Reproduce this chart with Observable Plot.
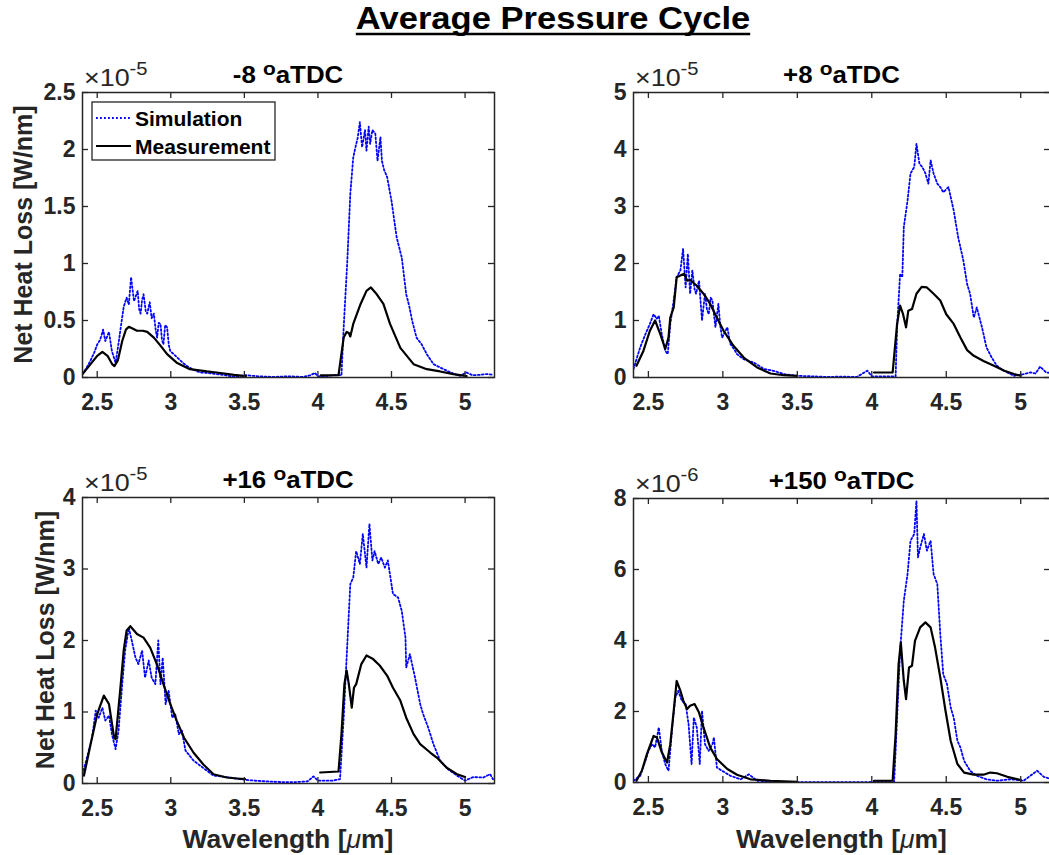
<!DOCTYPE html>
<html>
<head>
<meta charset="utf-8">
<script src="https://cdn.jsdelivr.net/npm/d3@7"></script>
<script src="https://cdn.jsdelivr.net/npm/@observablehq/plot@0.6"></script>
<style>
  html, body { margin: 0; padding: 0; background: #fff; }
  #fig { position: relative; width: 1049px; height: 855px; overflow: hidden; background: #fff; }
  .panel { position: absolute; }
</style>
</head>
<body>
<div id="fig"></div>
<script>
// ---------------- DATA ----------------
const mainTitle = "Average Pressure Cycle";
const panelTitles = ["-8", "+8", "+16", "+150"];
const titleUnit = "aTDC";
const exponents = ["-5", "-5", "-5", "-6"];
const seriesNames = ["Simulation", "Measurement"];
const yLabel = "Net Heat Loss [W/nm]";
const xLabelPre = "Wavelength [";
const xLabelMu = "\u03bc";
const xLabelPost = "m]";

const xDomain = [2.4, 5.2];
const xTicks = [2.5, 3, 3.5, 4, 4.5, 5];
const yTicksM8 = [0, 0.5, 1, 1.5, 2, 2.5];
const yTicksP8 = [0, 1, 2, 3, 4, 5];
const yTicksP16 = [0, 1, 2, 3, 4];
const yTicksP150 = [0, 2, 4, 6, 8];

// [wavelength (um), net heat loss (in units of the panel exponent)]
const simM8 = [[2.40,0.03],[2.43,0.09],[2.455,0.15],[2.48,0.22],[2.50,0.29],[2.52,0.33],[2.54,0.42],[2.555,0.32],[2.58,0.40],[2.60,0.23],[2.625,0.13],[2.645,0.30],[2.66,0.44],[2.68,0.62],[2.70,0.70],[2.715,0.64],[2.73,0.88],[2.75,0.67],[2.775,0.76],[2.785,0.60],[2.795,0.56],[2.805,0.68],[2.815,0.73],[2.83,0.58],[2.84,0.56],[2.857,0.66],[2.87,0.52],[2.885,0.56],[2.897,0.42],[2.907,0.35],[2.918,0.48],[2.93,0.47],[2.94,0.33],[2.95,0.29],[2.962,0.46],[2.975,0.44],[2.987,0.28],[2.997,0.23],[3.02,0.205],[3.04,0.18],[3.065,0.15],[3.09,0.12],[3.11,0.10],[3.15,0.07],[3.2,0.044],[3.25,0.04],[3.31,0.03],[3.37,0.02],[3.43,0.006],[3.51,0.02],[3.6,0.01],[3.7,0.005],[3.8,0.01],[3.9,0.005],[3.95,0.02],[3.98,0.04],[4.0,0.01],[4.05,0.01],[4.1,0.02],[4.16,0.02],[4.175,0.44],[4.2,1.03],[4.22,1.61],[4.24,1.93],[4.255,2.02],[4.27,2.1],[4.285,2.24],[4.30,2.02],[4.32,2.17],[4.33,1.99],[4.345,2.2],[4.355,2.05],[4.37,2.17],[4.39,2.14],[4.405,1.9],[4.425,2.11],[4.435,1.9],[4.45,1.82],[4.47,1.76],[4.5,1.55],[4.535,1.23],[4.57,1.05],[4.6,0.73],[4.62,0.63],[4.64,0.50],[4.67,0.35],[4.705,0.29],[4.74,0.205],[4.785,0.117],[4.83,0.088],[4.9,0.044],[4.965,0.015],[5.01,0.044],[5.05,0.02],[5.1,0.023],[5.15,0.03],[5.19,0.023]];
const measM8 = [[2.40,0.03],[2.455,0.117],[2.50,0.19],[2.535,0.225],[2.57,0.19],[2.60,0.12],[2.617,0.10],[2.64,0.15],[2.67,0.32],[2.695,0.42],[2.715,0.445],[2.74,0.43],[2.77,0.41],[2.81,0.41],[2.84,0.40],[2.885,0.35],[2.93,0.28],[2.975,0.205],[3.04,0.13],[3.13,0.073],[3.245,0.053],[3.31,0.044],[3.43,0.023],[3.51,0.012],[3.75,null],[4.02,0.018],[4.14,0.02],[4.175,0.35],[4.195,0.40],[4.21,0.39],[4.22,0.36],[4.24,0.47],[4.29,0.645],[4.33,0.76],[4.36,0.79],[4.40,0.73],[4.445,0.645],[4.49,0.47],[4.56,0.26],[4.65,0.117],[4.74,0.073],[4.83,0.053],[4.92,0.03],[5.01,0.012]];

const simP8 = [[2.40,0.15],[2.445,0.53],[2.48,0.76],[2.51,0.94],[2.535,1.11],[2.555,1.03],[2.57,1.08],[2.59,0.76],[2.613,0.47],[2.63,0.41],[2.647,0.94],[2.67,1.35],[2.69,1.76],[2.715,1.88],[2.733,2.26],[2.75,1.58],[2.765,2.17],[2.78,1.47],[2.795,1.88],[2.81,1.55],[2.82,1.47],[2.84,1.70],[2.86,1.0],[2.88,1.47],[2.893,1.2],[2.905,1.11],[2.918,1.4],[2.93,1.35],[2.95,0.88],[2.97,1.29],[2.983,0.9],[2.995,0.70],[3.03,0.88],[3.05,0.59],[3.075,0.5],[3.095,0.41],[3.14,0.32],[3.21,0.26],[3.275,0.15],[3.34,0.117],[3.41,0.06],[3.5,0.03],[3.6,0.02],[3.7,0.01],[3.8,0.015],[3.9,0.01],[3.97,0.12],[4.0,0.02],[4.1,0.02],[4.16,0.02],[4.17,0.88],[4.19,1.82],[4.205,1.76],[4.215,2.64],[4.24,3.1],[4.26,3.58],[4.285,3.69],[4.30,4.1],[4.32,3.75],[4.34,3.69],[4.36,3.58],[4.38,3.4],[4.395,3.81],[4.415,3.58],[4.44,3.4],[4.46,3.34],[4.48,3.25],[4.515,3.34],[4.55,2.93],[4.58,2.46],[4.615,2.05],[4.64,1.64],[4.66,1.47],[4.685,1.05],[4.705,1.23],[4.74,0.88],[4.77,0.53],[4.805,0.35],[4.84,0.205],[4.885,0.12],[4.955,0.03],[5.02,0.06],[5.065,0.09],[5.1,0.07],[5.13,0.19],[5.17,0.09],[5.2,0.08]];
const measP8 = [[2.42,0.205],[2.467,0.47],[2.51,0.82],[2.545,1.0],[2.58,0.76],[2.613,0.5],[2.635,0.70],[2.647,1.05],[2.67,1.23],[2.69,1.76],[2.715,1.79],[2.74,1.82],[2.76,1.70],[2.78,1.71],[2.825,1.61],[2.87,1.47],[2.915,1.29],[2.96,1.05],[3.005,0.82],[3.07,0.56],[3.14,0.35],[3.23,0.176],[3.32,0.07],[3.41,0.04],[3.5,0.03],[3.75,null],[4.015,0.088],[4.14,0.088],[4.17,0.94],[4.19,1.26],[4.21,1.11],[4.23,0.88],[4.245,1.17],[4.27,1.2],[4.30,1.47],[4.335,1.59],[4.37,1.58],[4.415,1.47],[4.46,1.35],[4.5,1.11],[4.55,0.94],[4.595,0.70],[4.64,0.48],[4.685,0.38],[4.75,0.29],[4.82,0.205],[4.89,0.117],[4.955,0.06],[5.0,0.03]];

const simP16 = [[2.40,0.13],[2.43,0.36],[2.465,0.64],[2.49,1.02],[2.51,0.92],[2.535,1.06],[2.555,0.88],[2.58,0.95],[2.60,0.69],[2.625,0.48],[2.645,0.74],[2.67,1.39],[2.69,1.86],[2.715,2.18],[2.74,1.95],[2.76,1.76],[2.78,1.67],[2.805,1.86],[2.825,1.48],[2.85,1.72],[2.87,1.48],[2.895,1.39],[2.915,2.0],[2.93,1.39],[2.945,1.76],[2.965,1.11],[2.985,1.30],[3.01,0.92],[3.03,0.97],[3.055,0.69],[3.075,0.74],[3.1,0.46],[3.12,0.41],[3.155,0.32],[3.2,0.25],[3.245,0.18],[3.29,0.11],[3.38,0.09],[3.47,0.06],[3.565,0.04],[3.65,0.03],[3.75,0.02],[3.85,0.02],[3.93,0.03],[3.97,0.1],[4.0,0.04],[4.1,0.04],[4.15,0.06],[4.175,0.92],[4.195,1.76],[4.22,2.79],[4.24,2.88],[4.26,3.25],[4.285,3.07],[4.305,3.49],[4.33,3.02],[4.35,3.63],[4.37,3.12],[4.385,3.25],[4.41,3.07],[4.43,3.16],[4.455,3.02],[4.475,3.12],[4.51,2.65],[4.545,2.6],[4.57,2.41],[4.595,2.04],[4.6,1.62],[4.625,1.81],[4.66,1.48],[4.695,1.11],[4.715,0.97],[4.75,0.78],[4.785,0.55],[4.83,0.32],[4.885,0.2],[4.945,0.11],[5.0,0.04],[5.055,0.09],[5.125,0.084],[5.17,0.13],[5.19,0.06]];
const measP16 = [[2.41,0.11],[2.455,0.55],[2.5,0.97],[2.545,1.23],[2.58,1.11],[2.615,0.64],[2.625,0.62],[2.66,1.39],[2.68,1.86],[2.70,2.14],[2.725,2.2],[2.75,2.14],[2.77,2.09],[2.815,2.04],[2.86,1.90],[2.905,1.67],[2.95,1.39],[2.997,1.11],[3.04,0.88],[3.09,0.64],[3.155,0.43],[3.22,0.27],[3.29,0.13],[3.38,0.084],[3.45,0.07],[3.505,0.06],[3.75,null],[4.015,0.154],[4.14,0.168],[4.16,0.69],[4.18,1.39],[4.195,1.58],[4.21,1.39],[4.23,1.06],[4.245,1.34],[4.26,1.39],[4.295,1.67],[4.33,1.79],[4.375,1.74],[4.42,1.65],[4.47,1.51],[4.51,1.34],[4.56,1.16],[4.6,0.92],[4.65,0.69],[4.695,0.55],[4.765,0.43],[4.81,0.36],[4.875,0.22],[4.945,0.13],[5.0,0.09]];

const simP150 = [[2.40,0.05],[2.445,0.19],[2.48,0.61],[2.5,0.89],[2.525,1.08],[2.545,0.99],[2.57,1.55],[2.59,0.89],[2.613,0.52],[2.635,0.33],[2.66,1.55],[2.68,2.39],[2.70,2.58],[2.725,2.3],[2.75,2.21],[2.77,1.64],[2.79,0.52],[2.805,1.83],[2.825,1.55],[2.845,0.52],[2.86,2.02],[2.88,1.08],[2.905,0.89],[2.93,1.08],[2.94,1.27],[2.96,0.42],[2.995,0.33],[3.05,0.19],[3.12,0.09],[3.175,0.23],[3.23,0.05],[3.32,0.02],[3.5,0.01],[3.7,0.01],[3.9,0.01],[4.15,0.02],[4.16,0.89],[4.17,1.83],[4.19,3.71],[4.215,5.12],[4.24,5.87],[4.26,6.81],[4.285,7.0],[4.30,7.93],[4.31,6.34],[4.325,6.62],[4.35,7.0],[4.37,6.53],[4.395,6.81],[4.415,5.87],[4.44,5.59],[4.46,4.18],[4.48,3.05],[4.505,2.77],[4.53,2.11],[4.55,1.83],[4.575,1.17],[4.595,0.99],[4.62,0.61],[4.66,0.33],[4.705,0.19],[4.77,0.09],[4.84,0.05],[4.93,0.09],[5.02,0.05],[5.11,0.33],[5.155,0.16],[5.2,0.1]];
const measP150 = [[2.42,0.05],[2.456,0.33],[2.49,0.8],[2.535,1.31],[2.557,1.27],[2.59,0.85],[2.625,0.56],[2.647,1.08],[2.67,2.02],[2.69,2.86],[2.715,2.58],[2.735,2.3],[2.76,2.07],[2.78,2.16],[2.81,2.21],[2.84,1.97],[2.87,1.55],[2.915,0.99],[2.96,0.66],[3.03,0.38],[3.095,0.22],[3.185,0.09],[3.32,0.05],[3.5,0.02],[3.75,null],[4.015,0.05],[4.14,0.05],[4.16,1.36],[4.18,3.33],[4.195,3.94],[4.215,2.86],[4.23,2.35],[4.25,3.24],[4.27,3.29],[4.29,3.99],[4.325,4.37],[4.36,4.51],[4.395,4.37],[4.425,3.8],[4.46,2.96],[4.495,2.02],[4.53,1.17],[4.575,0.52],[4.62,0.28],[4.685,0.22],[4.75,0.22],[4.795,0.28],[4.84,0.26],[4.91,0.16],[5.0,0.07]];

// ---------------- LAYOUT & STYLE ----------------
const FONT = '"Liberation Sans", Arial, Helvetica, sans-serif';
const INK = "#262626";
const SIM_COLOR = "#0000ff";
const MEAS_COLOR = "#000000";
const SIM_DASH = "1.8,2.2";
const TICK_FONT = 23;

const panels = [
  {sim: simM8,   meas: measM8,   yTicks: yTicksM8,   title: panelTitles[0], exp: exponents[0],
   left: 0,   top: 60,  width: 530, height: 360, mL: 82,  mT: 32, plotW: 412, plotH: 285, yLabelX: 23, xLabel: false, legend: true},
  {sim: simP8,   meas: measP8,   yTicks: yTicksP8,   title: panelTitles[1], exp: exponents[1],
   left: 530, top: 60,  width: 520, height: 360, mL: 103, mT: 32, plotW: 417, plotH: 285, yLabelX: null, xLabel: false, legend: false},
  {sim: simP16,  meas: measP16,  yTicks: yTicksP16,  title: panelTitles[2], exp: exponents[2],
   left: 0,   top: 450, width: 530, height: 405, mL: 82,  mT: 47, plotW: 412, plotH: 286, yLabelX: 45, xLabel: true, legend: false},
  {sim: simP150, meas: measP150, yTicks: yTicksP150, title: panelTitles[3], exp: exponents[3],
   left: 530, top: 450, width: 520, height: 405, mL: 103, mT: 48, plotW: 417, plotH: 284, yLabelX: null, xLabel: true, legend: false},
];

const fig = document.getElementById("fig");
const TICK = 6;

for (const p of panels) {
  const yMax = p.yTicks[p.yTicks.length - 1];
  const chart = Plot.plot({
    width: p.width,
    height: p.height,
    marginLeft: p.mL,
    marginRight: p.width - p.mL - p.plotW,
    marginTop: p.mT,
    marginBottom: p.height - p.mT - p.plotH,
    x: {domain: xDomain},
    y: {domain: [0, yMax]},
    style: {fontFamily: FONT, fontSize: TICK_FONT + "px", fontWeight: "bold", color: INK, background: "transparent", overflow: "visible"},
    marks: [
      Plot.line(p.sim, {x: d => d[0], y: d => d[1], stroke: SIM_COLOR, strokeWidth: 1.8, strokeDasharray: SIM_DASH, clip: true}),
      Plot.line(p.meas, {x: d => d[0], y: d => d[1], stroke: MEAS_COLOR, strokeWidth: 2.2, clip: true}),
      Plot.ruleX(xTicks, {insetTop: p.plotH - TICK, stroke: INK, strokeWidth: 1.3}),
      Plot.ruleX(xTicks, {insetBottom: p.plotH - TICK, stroke: INK, strokeWidth: 1.3}),
      Plot.ruleY(p.yTicks, {insetRight: p.plotW - TICK, stroke: INK, strokeWidth: 1.3}),
      Plot.ruleY(p.yTicks, {insetLeft: p.plotW - TICK, stroke: INK, strokeWidth: 1.3}),
      Plot.axisX(xTicks, {tickSize: 0, tickPadding: 16, tickFormat: d => String(d), label: null, fill: INK, fontSize: TICK_FONT, fontWeight: "bold"}),
      Plot.axisY(p.yTicks, {tickSize: 0, tickPadding: 7, tickFormat: d => String(d), label: null, fill: INK, fontSize: TICK_FONT, fontWeight: "bold"}),
      Plot.frame({stroke: INK, strokeWidth: 1.5})
    ]
  });
  const holder = document.createElement("div");
  holder.className = "panel";
  holder.style.left = p.left + "px";
  holder.style.top = p.top + "px";
  holder.style.width = p.width + "px";
  holder.style.height = p.height + "px";
  holder.appendChild(chart);
  fig.appendChild(holder);
}

// ---------------- TEXT OVERLAY ----------------
const NS = "http://www.w3.org/2000/svg";
const ov = document.createElementNS(NS, "svg");
ov.setAttribute("width", 1049);
ov.setAttribute("height", 855);
ov.style.position = "absolute";
ov.style.left = "0px";
ov.style.top = "0px";
ov.style.pointerEvents = "none";
ov.style.fontFamily = FONT;
fig.appendChild(ov);

function el(parent, tag, attrs, text) {
  const e = document.createElementNS(NS, tag);
  for (const k in attrs) e.setAttribute(k, attrs[k]);
  if (text != null) e.textContent = text;
  parent.appendChild(e);
  return e;
}

// main title (slightly widened to match the reference's letter proportions)
const mtG = el(ov, "g", {transform: "translate(553,29) scale(1.08,1)"});
const mt = el(mtG, "text", {x: 0, y: 0, "text-anchor": "middle", "font-size": 32, "font-weight": "bold", fill: "#000"}, mainTitle);
const bb = mt.getBBox();
el(mtG, "line", {x1: bb.x, x2: bb.x + bb.width, y1: 5, y2: 5, stroke: "#000", "stroke-width": 2.6});

for (const p of panels) {
  const cx = p.left + p.mL + p.plotW / 2;
  const plotTop = p.top + p.mT;
  // panel title
  const tg = el(ov, "g", {transform: `translate(${cx},${plotTop - 9}) scale(1.1,1)`});
  const t = el(tg, "text", {x: 0, y: 0, "text-anchor": "middle", "font-size": 23.5, "font-weight": "bold", fill: "#000"});
  el(t, "tspan", {}, p.title + " ");
  el(t, "tspan", {"font-size": 19, dy: -8}, "o");
  el(t, "tspan", {dy: 8}, titleUnit);
  // exponent
  const eg = el(ov, "g", {transform: `translate(${p.left + p.mL + 2},${plotTop - 6}) scale(1.12,1)`});
  const e = el(eg, "text", {x: 0, y: 0, "font-size": 24, fill: INK});
  el(e, "tspan", {}, "\u00d710");
  el(e, "tspan", {"font-size": 18, dy: -11}, p.exp);
  // y label
  if (p.yLabelX != null) {
    const cy = plotTop + p.plotH / 2;
    el(ov, "text", {x: 0, y: 0, transform: `translate(${p.yLabelX},${cy}) rotate(-90)`, "text-anchor": "middle", dy: "0.36em", "font-size": 25, "font-weight": "bold", fill: INK}, yLabel);
  }
  // x label
  if (p.xLabel) {
    const xl = el(ov, "text", {x: cx, y: 848, "text-anchor": "middle", "font-size": 26.5, "font-weight": "bold", fill: INK});
    el(xl, "tspan", {}, xLabelPre);
    el(xl, "tspan", {"font-style": "italic", "font-weight": "normal"}, xLabelMu);
    el(xl, "tspan", {}, xLabelPost);
  }
  // legend
  if (p.legend) {
    const lx = p.left + p.mL + 10, ly = plotTop + 10;
    el(ov, "rect", {x: lx, y: ly, width: 183, height: 58, fill: "#fff", stroke: INK, "stroke-width": 1.3});
    el(ov, "line", {x1: lx + 4, x2: lx + 39, y1: ly + 16, y2: ly + 16, stroke: SIM_COLOR, "stroke-width": 1.8, "stroke-dasharray": SIM_DASH});
    el(ov, "text", {x: lx + 43, y: ly + 16, dy: "0.36em", "font-size": 21, "font-weight": "bold", fill: "#000"}, seriesNames[0]);
    el(ov, "line", {x1: lx + 4, x2: lx + 39, y1: ly + 44, y2: ly + 44, stroke: MEAS_COLOR, "stroke-width": 2.2});
    el(ov, "text", {x: lx + 43, y: ly + 44, dy: "0.36em", "font-size": 21, "font-weight": "bold", fill: "#000"}, seriesNames[1]);
  }
}
</script>
</body>
</html>
